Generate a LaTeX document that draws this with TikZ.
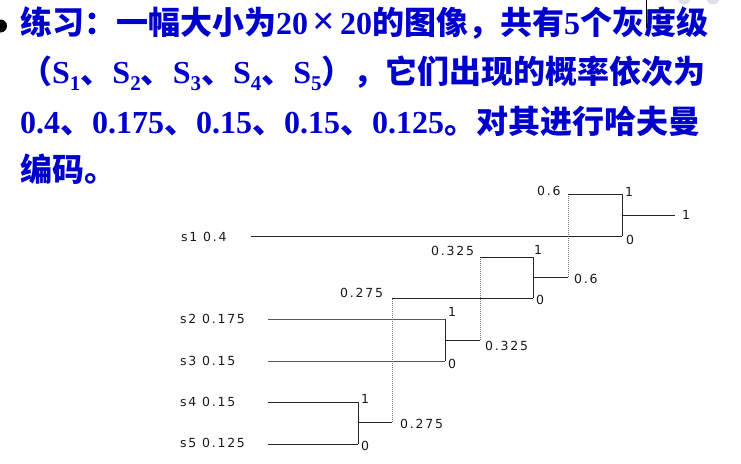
\documentclass[tikz,border=0pt]{standalone}
\usepackage{fontspec}
\setmainfont{Liberation Serif}
\newfontfamily\cjk{Noto Sans CJK SC}
\newfontfamily\dfont[LetterSpace=14]{DejaVu Sans}
\definecolor{ttl}{RGB}{0,0,204}
\definecolor{deco}{RGB}{222,222,236}
\newcommand{\Lt}[1]{{\rmfamily\bfseries #1}}
\newcommand{\Cj}[1]{{\cjk\bfseries #1}}
\newcommand{\Sb}[1]{\raisebox{-0.22em}{\fontsize{21}{21}\selectfont #1}}
\newcommand{\Tm}{\makebox[1em]{\fontsize{40}{40}\selectfont\rmfamily ×}}
\begin{document}
\begin{tikzpicture}[x=1pt,y=-1pt,
  titletext/.style={anchor=base west, inner sep=0pt, text=ttl, font=\fontsize{32}{32}\selectfont},
  tline/.style={line width=0.9pt, black!85},
  tlinegray/.style={line width=0.9pt, black!65},
  dline/.style={line width=1pt, black!55, dash pattern=on 1pt off 1pt},
  lbl/.style={font=\dfont\fontsize{12.5}{12.5}\selectfont, inner sep=0pt, anchor=west, text=black!90}]
\useasboundingbox (0,0) rectangle (741,463);
% decoration at top
\fill[deco] (684,-2) circle (6.5);
\fill[deco] (713,-2) circle (6.5);
\draw[line width=0.8pt] (646,0) -- (646,28);
\fill[black] (0.5,26) circle (6.5);
% title text
\node[titletext] (t1) at (20,34) {\Cj{练习：一幅大小为}\Lt{20\Tm 20}\Cj{的图像，共有}\Lt{5}\Cj{个灰度级}};
\node[titletext] (t2) at (20,83) {\Cj{（}\Lt{S\Sb{1}}\Cj{、}\Lt{S\Sb{2}}\Cj{、}\Lt{S\Sb{3}}\Cj{、}\Lt{S\Sb{4}}\Cj{、}\Lt{S\Sb{5}}\Cj{），它们出现的概率依次为}};
\node[titletext] (t3) at (20,133) {\Lt{0.4}\Cj{、}\Lt{0.175}\Cj{、}\Lt{0.15}\Cj{、}\Lt{0.15}\Cj{、}\Lt{0.125}\Cj{。对其进行哈夫曼}};
\node[titletext] (t4) at (20,181.5) {\Cj{编码。}};
% leaf labels
\node[lbl] (s1) at (181,237) {s1 0.4};
\node[lbl] (s2) at (180,319) {s2 0.175};
\node[lbl] (s3) at (180,361) {s3 0.15};
\node[lbl] (s4) at (180,402) {s4 0.15};
\node[lbl] (s5) at (180,443) {s5 0.125};
% coordinates
\coordinate (a1) at (251,236);
\coordinate (a2) at (268,319);
\coordinate (a3) at (268,361);
\coordinate (a4) at (268,402);
\coordinate (a5) at (268,444);
\coordinate (j2) at (445,319);
\coordinate (j3) at (445,361);
\coordinate (m23) at (445,340);
\coordinate (o23) at (480,340);
\coordinate (u23) at (480,257);
\coordinate (j4) at (358,402);
\coordinate (j5) at (358,444);
\coordinate (m45) at (358,422);
\coordinate (o45) at (392,422);
\coordinate (u45) at (392,298);
\coordinate (k1) at (533,257);
\coordinate (k0) at (533,298);
\coordinate (mk) at (533,277);
\coordinate (ok) at (568,277);
\coordinate (uk) at (568,194);
\coordinate (r1) at (622,194);
\coordinate (r0) at (622,236);
\coordinate (mr) at (622,215);
\coordinate (root) at (675,215);
% leaves
\draw[tline] (a1) -- (r0);
\draw[tlinegray] (a2) -- (j2);
\draw[tlinegray] (a3) -- (j3);
\draw[tline] (a4) -- (j4);
\draw[tline] (a5) -- (j5);
% merge s2,s3
\draw[tline] (j2) -- (j3);
\draw[tline] (m23) -- (o23);
\draw[dline] (o23) -- (u23);
\draw[tline] (u23) -- (k1);
% merge s4,s5
\draw[tline] (j4) -- (j5);
\draw[tline] (m45) -- (o45);
\draw[dline] (o45) -- (u45);
\draw[tline] (u45) -- (k0);
% merge 0.325,0.275
\draw[tline] (k1) -- (k0);
\draw[tline] (mk) -- (ok);
\draw[dline] (ok) -- (uk);
\draw[tline] (uk) -- (r1);
% root
\draw[tline] (r1) -- (r0);
\draw[tline] (mr) -- (root);
% labels
\node[lbl] (l06a) at (537,191) {0.6};
\node[lbl] (r1b) at (625,192) {1};
\node[lbl] (r0b) at (626,240) {0};
\node[lbl] (rootb) at (682,215) {1};
\node[lbl] (l06b) at (574,279) {0.6};
\node[lbl] (l0325a) at (431,251) {0.325};
\node[lbl] (k1b) at (534,250) {1};
\node[lbl] (k0b) at (536,300) {0};
\node[lbl] (l0275a) at (340,293) {0.275};
\node[lbl] (j2b) at (448,312) {1};
\node[lbl] (j3b) at (448,364) {0};
\node[lbl] (l0325b) at (485,346) {0.325};
\node[lbl] (j4b) at (361,399) {1};
\node[lbl] (j5b) at (361,446) {0};
\node[lbl] (l0275b) at (400,424) {0.275};
\end{tikzpicture}
\end{document}
